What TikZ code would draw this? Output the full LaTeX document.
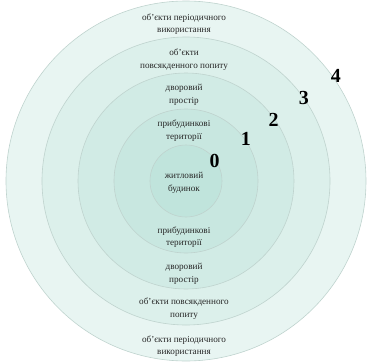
\documentclass[tikz,border=0pt]{standalone}
\usepackage{fontspec}
\setmainfont{Liberation Serif}
\usetikzlibrary{positioning}
\definecolor{ringA}{HTML}{E8F5F2}
\definecolor{ringB}{HTML}{DCF0EB}
\definecolor{ringC}{HTML}{D1EBE5}
\definecolor{ringD}{HTML}{C8E7E0}
\definecolor{ringE}{HTML}{C0E4DC}
\definecolor{ringline}{HTML}{BFD3CE}

\begin{document}
\begin{tikzpicture}[x=1bp, y=1bp,
    zone/.style={draw=ringline, line width=0.6pt},
    lbl/.style={font=\fontsize{9.2}{12.5}\selectfont, align=center,
                inner sep=0pt, text=black!85},
    num/.style={font=\fontsize{20}{20}\selectfont\bfseries, inner sep=0pt},
]
    \useasboundingbox (-186,-181) rectangle (182,181);

    % zones, from the outside in
    \foreach \r/\c in {180/ringA, 144/ringB, 108/ringC, 72/ringD, 36/ringE} {
        \filldraw[zone, fill=\c] (0,0) circle (\r);
    }

    % zone numbers on the borders
    \foreach \i/\r in {0/35, 1/73, 2/107, 3/144, 4/183} {
        \node[num] (n\i) at (35:\r) {\i};
    }

    % upper labels
    \node[lbl] (per1) at (-2, 157)   {об’єкти періодичного\\використання};
    \node[lbl] (pov1) at (-2, 121.5) {об’єкти\\повсякденного попиту};
    \node[lbl] (dvr1) at (-2, 86)    {дворовий\\простір};
    \node[lbl] (prb1) at (-2, 50.5)  {прибудинкові\\території};
    \node[lbl] (home) at (-2, -2)    {житловий\\будинок};

    % lower labels
    \node[lbl] (prb2) at (-2, -56)    {прибудинкові\\території};
    \node[lbl] (dvr2) at (-2, -93)    {дворовий\\простір};
    \node[lbl] (pov2) at (-2, -127.5) {об’єкти повсякденного\\попиту};
    \node[lbl] (per2) at (-2, -165)   {об’єкти періодичного\\використання};
\end{tikzpicture}
\end{document}
